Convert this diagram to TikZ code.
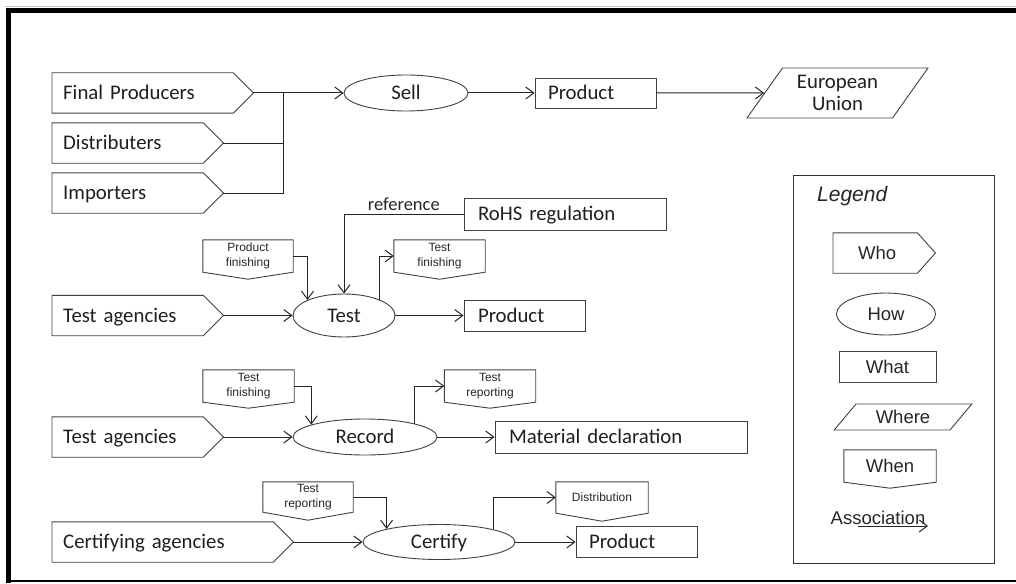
\documentclass[tikz,border=0pt]{standalone}
\usepackage{fontspec}
\setmainfont{Carlito}
\newfontfamily\arialf{Liberation Sans}
\usetikzlibrary{arrows.meta,shapes.geometric,calc}
\newcommand{\whoshape}[2]{\draw[outl] (#1.north west) -- ([xshift=-#2]#1.north east) -- (#1.east) -- ([xshift=-#2]#1.south east) -- (#1.south west) -- cycle;}
\newcommand{\whenshape}[2]{\draw[outl] (#1.north west) -- (#1.north east) -- (#1.south east) -- ([yshift=-#2]#1.south) -- (#1.south west) -- cycle;}
\tikzset{
 outl/.style={draw=black!75, line width=0.9pt},
 conn/.style={draw=black!85, line width=1pt},
 arr/.style={conn, -{Straight Barb[length=8pt,width=12pt]}},
 mainf/.style={font=\fontsize{20.8}{22.5}\selectfont, text=black!88},
 smallf/.style={font=\arialf\fontsize{12}{14.5}\selectfont, text=black!85},
 legf/.style={font=\arialf\fontsize{18.5}{21}\selectfont, text=black!85},
 who/.style={mainf, anchor=west, inner ysep=0pt, inner xsep=11pt, minimum height=40pt, align=left, text height=13.4pt, text depth=0pt},
 how/.style={ellipse, outl, inner sep=0pt, mainf, text height=13.4pt, text depth=0pt},
 what/.style={rectangle, outl, inner ysep=0pt, minimum height=31pt, mainf, align=left, text height=13.4pt, text depth=0pt},
 when/.style={smallf, inner sep=0pt, align=center},
 where/.style={trapezium, trapezium stretches=true, inner sep=0pt, outl},
}
\begin{document}
\begin{tikzpicture}[x=1pt,y=-1pt]
\useasboundingbox (0,0) rectangle (1016,583);
% frame
\draw[black!25, line width=0.8pt] (5,6.5) -- (1016,6.5);
\draw[black, line width=5pt] (6,11) -- (1016,11);
\draw[black, line width=5pt] (8.5,8.5) -- (8.5,583);
\draw[black, line width=1.2pt] (6,581) -- (1016,581);

% row 1
\node[who, text width=179pt] (fp) at (52,93) {Final Producers};
\whoshape{fp}{20pt}
\node[who, text width=149pt] (dist) at (52,143) {Distributers};
\whoshape{dist}{20pt}
\node[who, text width=149pt] (imp) at (52,193) {Importers};
\whoshape{imp}{20pt}
\node[how, minimum width=124pt, minimum height=36pt] (sell) at (406,93) {Sell};
\coordinate (j) at (283,93);
\node[what, inner xsep=13pt, text width=95pt, minimum height=30pt] (prod1) at (595.5,93) {Product};
\node[where, trapezium left angle=54, trapezium right angle=126, minimum width=181pt, minimum height=50pt, mainf, align=center] (eu) at (837.5,93) {European\\Union};
\draw[arr] (fp.east) -- (sell.west);
\draw[conn] (dist.east) -| (j);
\draw[conn] (imp.east) -| (j);
\draw[arr] (sell.east) -- (prod1.west);
\draw[arr] (prod1.east) -- (eu);

% row 2
\node[what, inner xsep=14pt, text width=174pt, minimum height=32pt] (rohs) at (565,214) {RoHS regulation};
\node[when, minimum width=90pt, minimum height=32pt] (pf) at (248,256) {Product\\finishing};
\whenshape{pf}{7pt}
\node[when, minimum width=91pt, minimum height=32pt] (tf1) at (439.5,256) {Test\\finishing};
\whenshape{tf1}{7pt}
\node[who, text width=149pt] (ta1) at (52,315.5) {Test agencies};
\whoshape{ta1}{20pt}
\node[how, minimum width=102pt, minimum height=43pt] (test) at (344,315.5) {Test};
\node[what, inner xsep=14pt, text width=93pt] (prod2) at (524.5,315.5) {Product};
\draw[arr] (ta1.east) -- (test.west);
\draw[arr] (test.east) -- (prod2.west);
\draw[arr] (rohs.west) -| node[pos=0.25, above, inner sep=3pt, font=\fontsize{18.5}{20}\selectfont, text=black!85] (reflab) {reference} (test.north);
\draw[arr] (pf.east) -| (test.157);
\draw[arr] (test.24) |- (tf1.west);

% row 3
\node[when, minimum width=91pt, minimum height=32pt] (tf2) at (248.5,386) {Test\\finishing};
\whenshape{tf2}{6pt}
\node[who, text width=149pt] (ta2) at (52,437) {Test agencies};
\whoshape{ta2}{20pt}
\node[how, minimum width=144pt, minimum height=36pt] (record) at (365,437) {Record};
\node[when, minimum width=91pt, minimum height=32pt] (tr1) at (490,386) {Test\\reporting};
\whenshape{tr1}{6pt}
\node[what, inner xsep=14pt, text width=224pt, minimum height=32pt] (mat) at (621,437) {Material declaration};
\draw[arr] (ta2.east) -- (record.west);
\draw[arr] (record.east) -- (mat.west);
\draw[arr] (tf2.east) -| (record.167);
\draw[arr] (record.15) |- (tr1.west);

% row 4
\node[when, minimum width=90pt, minimum height=30pt] (tr2) at (308,497) {Test\\reporting};
\whenshape{tr2}{8pt}
\node[who, text width=219pt] (ca) at (52,542) {Certifying agencies};
\whoshape{ca}{20pt}
\node[how, minimum width=152pt, minimum height=35pt] (cert) at (439,542) {Certify};
\node[when, minimum width=92pt, minimum height=31pt] (distr) at (602,497.5) {Distribution};
\whenshape{distr}{8pt}
\node[what, inner xsep=13pt, text width=95pt] (prod3) at (636.5,542) {Product};
\draw[arr] (ca.east) -- (cert.west);
\draw[arr] (cert.east) -- (prod3.west);
\draw[arr] (tr2.east) -| (cert.166);
\draw[arr] (cert.13) |- (distr.west);

% legend
\node[draw=black!80, line width=1pt, minimum width=201pt, minimum height=388pt, inner sep=0pt] (legend) at (893.5,369) {};
\node[anchor=west, font=\arialf\itshape\fontsize{21}{24}\selectfont, text=black!85, inner sep=0pt] (legtitle) at (817,196) {Legend};
\node[who, legf, inner xsep=25pt, text width=52pt] (lwho) at (833,253) {Who};
\whoshape{lwho}{18pt}
\node[how, legf, minimum width=99pt, minimum height=42pt] (lhow) at (886,314) {How};
\node[what, legf, minimum width=97pt, minimum height=31pt, align=center] (lwhat) at (887.5,366.5) {What};
\node[where, trapezium left angle=47, trapezium right angle=133, minimum width=138pt, minimum height=26pt, legf] (lwhere) at (903,417) {Where};
\node[when, legf, minimum width=92pt, minimum height=32pt] (lwhen) at (890,466) {When};
\whenshape{lwhen}{6pt}
\node[legf, inner sep=0pt] (lassoc) at (878,518) {Association};
\coordinate (as1) at (858,526);
\coordinate (as2) at (928,526);
\draw[arr] (as1) -- (as2);
\end{tikzpicture}
\end{document}
